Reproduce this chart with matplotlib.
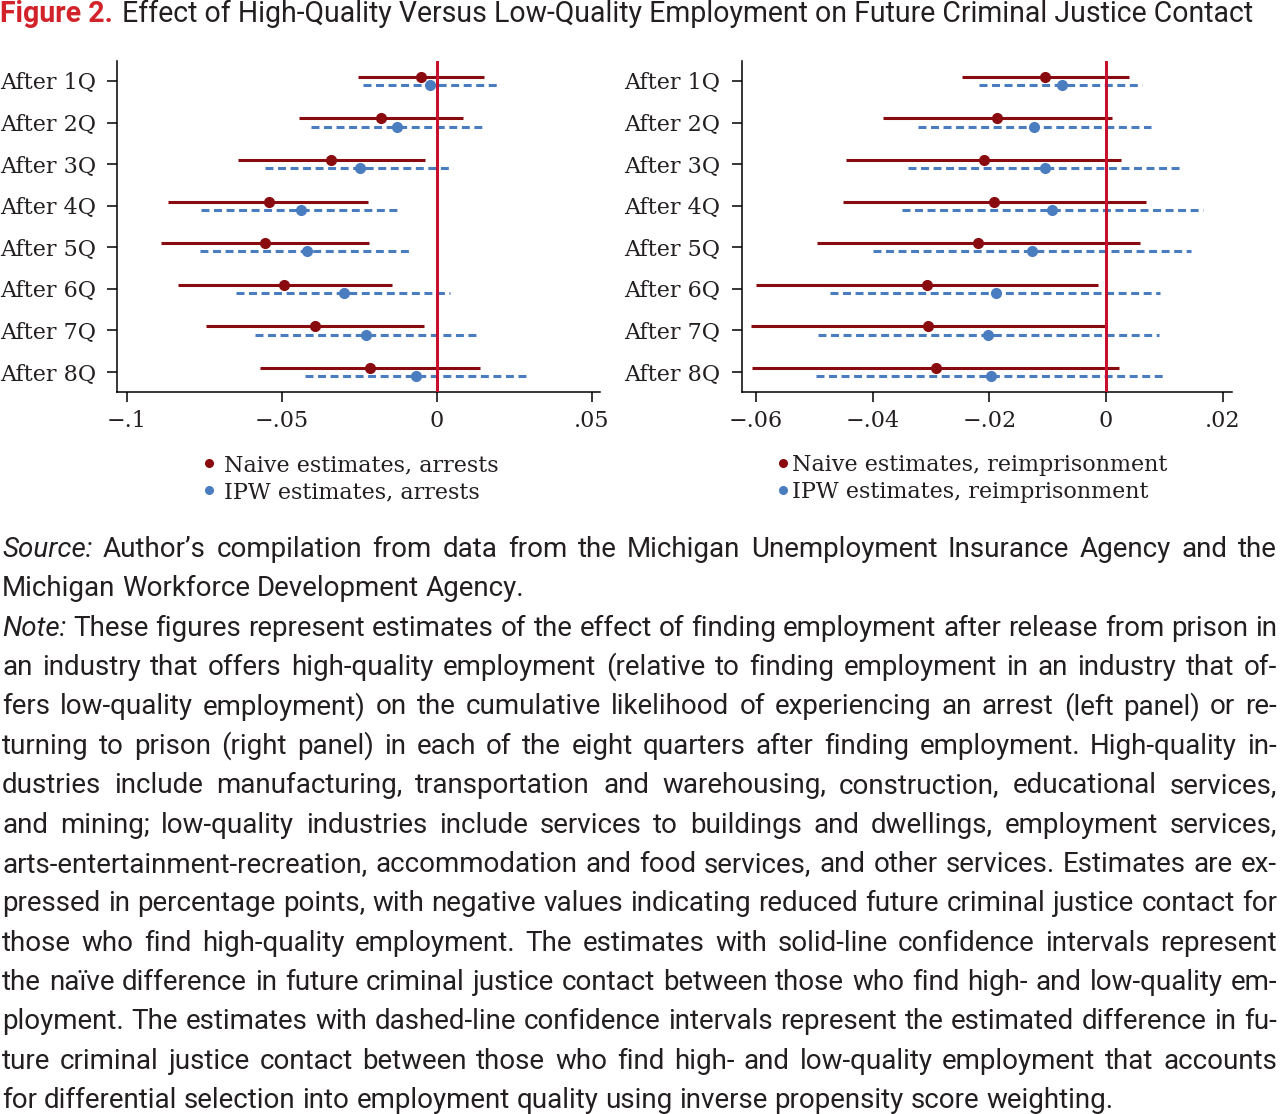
import matplotlib
matplotlib.use("Agg")
import matplotlib.pyplot as plt
from matplotlib.lines import Line2D

# ---- data ----
quarters = ["After 1Q", "After 2Q", "After 3Q", "After 4Q",
            "After 5Q", "After 6Q", "After 7Q", "After 8Q"]

arrest_naive = [-0.0052, -0.0180, -0.0340, -0.0542, -0.0555, -0.0491, -0.0392, -0.0215]
arrest_naive_lo = [-0.0255, -0.0444, -0.0641, -0.0865, -0.0890, -0.0835, -0.0744, -0.0570]
arrest_naive_hi = [0.0154, 0.0085, -0.0038, -0.0220, -0.0218, -0.0144, -0.0041, 0.0141]
arrest_ipw = [-0.0020, -0.0128, -0.0247, -0.0439, -0.0419, -0.0298, -0.0229, -0.0065]
arrest_ipw_lo = [-0.0237, -0.0404, -0.0555, -0.0759, -0.0762, -0.0648, -0.0585, -0.0423]
arrest_ipw_hi = [0.0196, 0.0151, 0.0052, -0.0115, -0.0078, 0.0043, 0.0127, 0.0296]

prison_naive = [-0.0104, -0.0186, -0.0209, -0.0192, -0.0219, -0.0306, -0.0305, -0.0292]
prison_naive_lo = [-0.0246, -0.0383, -0.0445, -0.0451, -0.0496, -0.0600, -0.0609, -0.0606]
prison_naive_hi = [0.0039, 0.0011, 0.0026, 0.0068, 0.0059, -0.0013, 0.0000, 0.0022]
prison_ipw = [-0.0075, -0.0123, -0.0105, -0.0093, -0.0127, -0.0189, -0.0202, -0.0197]
prison_ipw_lo = [-0.0218, -0.0323, -0.0339, -0.0350, -0.0400, -0.0473, -0.0494, -0.0497]
prison_ipw_hi = [0.0061, 0.0077, 0.0129, 0.0166, 0.0145, 0.0093, 0.0091, 0.0101]

arrest_ticks = [-0.1, -0.05, 0, 0.05]
arrest_ticklabels = ["\u2212.1", "\u2212.05", "0", ".05"]
prison_ticks = [-0.06, -0.04, -0.02, 0, 0.02]
prison_ticklabels = ["\u2212.06", "\u2212.04", "\u2212.02", "0", ".02"]

title_bold = "Figure 2."
title_rest = "Effect of High-Quality Versus Low-Quality Employment on Future Criminal Justice Contact"

note_lines = [
    "Source: Author\u2019s compilation from data from the Michigan Unemployment Insurance Agency and the",
    "Michigan Workforce Development Agency.",
    "Note: These figures represent estimates of the effect of finding employment after release from prison in",
    "an industry that offers high-quality employment (relative to finding employment in an industry that of-",
    "fers low-quality employment) on the cumulative likelihood of experiencing an arrest (left panel) or re-",
    "turning to prison (right panel) in each of the eight quarters after finding employment. High-quality in-",
    "dustries include manufacturing, transportation and warehousing, construction, educational services,",
    "and mining; low-quality industries include services to buildings and dwellings, employment services,",
    "arts-entertainment-recreation, accommodation and food services, and other services. Estimates are ex-",
    "pressed in percentage points, with negative values indicating reduced future criminal justice contact for",
    "those who find high-quality employment. The estimates with solid-line confidence intervals represent",
    "the na\u00efve difference in future criminal justice contact between those who find high- and low-quality em-",
    "ployment. The estimates with dashed-line confidence intervals represent the estimated difference in fu-",
    "ture criminal justice contact between those who find high- and low-quality employment that accounts",
    "for differential selection into employment quality using inverse propensity score weighting.",
]
last_in_paragraph = [1, 14]

NAIVE = "#8a0b0f"
IPW = "#4a7dc0"
ZERO = "#c8102e"
INK = "#231f20"
SERIF = "DejaVu Serif"
SANS = "Roboto"

W, H = 1280, 1114
fig = plt.figure(figsize=(W / 100, H / 100), dpi=100)


def rect(x0, y0, x1, y1):
    return [x0 / W, 1 - y1 / H, (x1 - x0) / W, (y1 - y0) / H]


def panel(box, naive, nlo, nhi, ipw, ilo, ihi, xlim, ticks, ticklabels):
    ax = fig.add_axes(box)
    ys = list(range(1, len(quarters) + 1))
    yn = [y - 0.1 for y in ys]
    yi = [y + 0.1 for y in ys]
    ax.hlines(yn, nlo, nhi, color=NAIVE, lw=2.2, zorder=2)
    ax.hlines(yi, ilo, ihi, color=IPW, lw=2.2, linestyles=(0, (2.6, 1.5)), zorder=2)
    ax.axvline(0, color=ZERO, lw=2.2, zorder=3)
    ax.plot(naive, yn, "o", color=NAIVE, ms=7, zorder=4)
    ax.plot(ipw, yi, "o", color=IPW, ms=7, zorder=4)
    ax.set_xlim(*xlim)
    ax.set_ylim(8.48, 0.52)
    ax.set_yticks(ys)
    ax.set_yticklabels(quarters)
    ax.set_xticks(ticks)
    ax.set_xticklabels(ticklabels)
    for s in ["top", "right"]:
        ax.spines[s].set_visible(False)
    for s in ["left", "bottom"]:
        ax.spines[s].set_linewidth(1.1)
    ax.tick_params(axis="both", length=7.2, width=1.1, labelsize=16, colors="black")
    ax.tick_params(axis="y", pad=8)
    ax.tick_params(axis="x", pad=6)
    for lab in ax.get_xticklabels() + ax.get_yticklabels():
        lab.set_family(SERIF)
        lab.set_color(INK)
    return ax


ax1 = panel(rect(117, 61, 600, 392), arrest_naive, arrest_naive_lo, arrest_naive_hi,
            arrest_ipw, arrest_ipw_lo, arrest_ipw_hi, (-0.1031, 0.0527),
            arrest_ticks, arrest_ticklabels)
ax2 = panel(rect(741.7, 61, 1231.7, 392), prison_naive, prison_naive_lo, prison_naive_hi,
            prison_ipw, prison_ipw_lo, prison_ipw_hi, (-0.06245, 0.02155),
            prison_ticks, prison_ticklabels)


def add_legend(ax, labels, x_marker, pad):
    handles = [Line2D([], [], marker="o", ls="none", color=NAIVE, ms=5.5),
               Line2D([], [], marker="o", ls="none", color=IPW, ms=5.5)]
    leg = ax.legend(handles, labels, loc="center left",
                    bbox_to_anchor=((x_marker - 6.5) / W, 1 - 478.5 / H),
                    bbox_transform=fig.transFigure, frameon=False,
                    handlelength=0.6, handletextpad=pad, borderpad=0,
                    borderaxespad=0, labelspacing=0.22,
                    prop={"family": SERIF, "size": 16})
    for t in leg.get_texts():
        t.set_color(INK)


add_legend(ax1, ["Naive estimates, arrests", "IPW estimates, arrests"], 209, 0.35)
add_legend(ax2, ["Naive estimates, reimprisonment", "IPW estimates, reimprisonment"], 783, 0.1)

# ---- title and note text, laid out in pixels ----
fig.canvas.draw()
r = fig.canvas.get_renderer()


def measure(s, **kw):
    t = fig.text(0, 0, s, **kw)
    w = t.get_window_extent(r).width
    t.remove()
    return w


# title fitted to the reference width
base = 20
w_bold = measure(title_bold, fontsize=base, family=SANS, weight="bold")
w_rest = measure(title_rest, fontsize=base, family=SANS)
tfs = base * (1253 - 9) / (w_bold + w_rest)
tb = fig.text(0, 1 - 22 / H, title_bold, fontsize=tfs, family=SANS, weight="bold",
              color="#d2232a", va="baseline")
wb = tb.get_window_extent(r).width
fig.text((wb + 9) / W, 1 - 22 / H, title_rest, fontsize=tfs, family=SANS,
         color=INK, va="baseline")

# note text: font fitted to the last (unjustified) line, other lines justified
nfs = base * 1113 / measure(note_lines[-1], fontsize=base, family=SANS)
space = measure("a a", fontsize=nfs, family=SANS) - measure("aa", fontsize=nfs, family=SANS)
x_left, x_right = 2, 1277
for i, line in enumerate(note_lines):
    yb = 1 - (557 + 39.36 * i) / H
    words = line.split(" ")
    texts = []
    for j, wd in enumerate(words):
        style = "italic" if j == 0 and wd in ("Source:", "Note:") else "normal"
        texts.append(fig.text(0, yb, wd, fontsize=nfs, family=SANS, style=style,
                              color=INK, va="baseline"))
    widths = [t.get_window_extent(r).width for t in texts]
    if i in last_in_paragraph or len(words) < 2:
        gap = space
    else:
        gap = (x_right - x_left - sum(widths)) / (len(words) - 1)
    x = x_left
    for t, w in zip(texts, widths):
        t.set_x(x / W)
        x += w + gap

fig.savefig("out.png", dpi=100, facecolor="white")
